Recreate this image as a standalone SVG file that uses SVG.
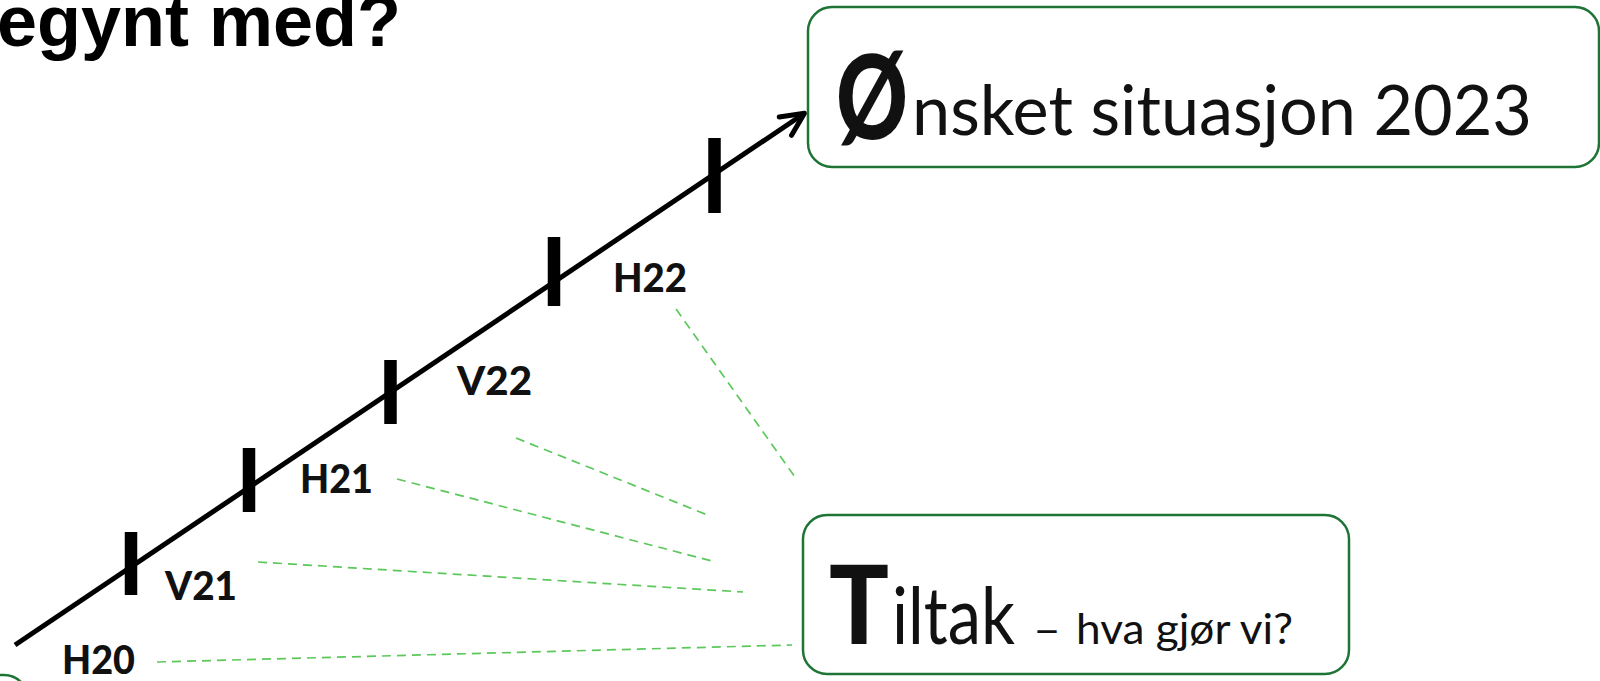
<svg xmlns="http://www.w3.org/2000/svg" width="1600" height="681" viewBox="0 0 1600 681">
<defs>
<style>
.box{fill:#ffffff;stroke:#1e7435;stroke-width:2.5}
.main{stroke:#000;stroke-width:5;fill:none;stroke-linecap:butt}
.tick{stroke:#000;stroke-width:12.5;fill:none}
.dash{stroke:#5cc85c;stroke-width:1.7;stroke-dasharray:9 6;fill:none}
.lbl{font-family:Lato,"Open Sans",sans-serif;font-weight:900;font-size:40px;fill:#111}
.cal{font-family:Lato,"Open Sans",sans-serif;fill:#111}
.title{font-family:"Liberation Sans",Arial,sans-serif;font-weight:bold;font-size:72px;fill:#000}
</style>
<marker id="arr" viewBox="0 0 32 32" refX="24" refY="16" markerWidth="32" markerHeight="32" markerUnits="userSpaceOnUse" orient="auto">
<path d="M4,5 L27,16 L4,27" fill="none" stroke="#000" stroke-width="5" stroke-linecap="round" stroke-linejoin="round"/>
</marker>
</defs>
<rect width="1600" height="681" fill="#ffffff"/>
<text class="title" x="401" y="46" text-anchor="end">egynt med?</text>
<g id="connectors">
<line class="main" x1="15" y1="645" x2="802" y2="115" marker-end="url(#arr)"/>
<line class="tick" x1="131" y1="532" x2="131" y2="595"/>
<line class="tick" x1="249" y1="448" x2="249" y2="512"/>
<line class="tick" x1="390.5" y1="360" x2="390.5" y2="424"/>
<line class="tick" x1="554" y1="237" x2="554" y2="306"/>
<line class="tick" x1="714.5" y1="138" x2="714.5" y2="213"/>
<line class="dash" x1="157" y1="662" x2="792" y2="645"/>
<line class="dash" x1="258" y1="562" x2="743" y2="592"/>
<line class="dash" x1="397" y1="479" x2="712" y2="561"/>
<line class="dash" x1="516" y1="438" x2="710" y2="516"/>
<line class="dash" x1="676" y1="309" x2="795" y2="477"/>
</g>
<g id="labels">
<text class="lbl" x="62" y="674" textLength="73" lengthAdjust="spacingAndGlyphs">H20</text>
<text class="lbl" x="165" y="600" textLength="72" lengthAdjust="spacingAndGlyphs">V21</text>
<text class="lbl" x="300" y="493" textLength="73" lengthAdjust="spacingAndGlyphs">H21</text>
<text class="lbl" x="457" y="395" textLength="75" lengthAdjust="spacingAndGlyphs">V22</text>
<text class="lbl" x="613" y="292" textLength="74" lengthAdjust="spacingAndGlyphs">H22</text>
</g>
<g id="onsket">
<rect class="box" x="808" y="7" width="791" height="160" rx="24"/>
<text class="cal" x="836" y="139" font-size="116" font-weight="900" textLength="72" lengthAdjust="spacingAndGlyphs">Ø</text>
<text class="cal" x="912" y="135" font-size="69" textLength="620" lengthAdjust="spacingAndGlyphs">nsket situasjon 2023</text>
</g>
<g id="tiltak">
<rect class="box" x="803" y="515" width="546" height="159" rx="24"/>
<text class="cal" x="829" y="644" font-size="108" font-weight="900" textLength="60" lengthAdjust="spacingAndGlyphs">T</text>
<text class="cal" x="892" y="644" font-size="80" textLength="123" lengthAdjust="spacingAndGlyphs">iltak</text>
<text class="cal" x="1033" y="644" font-size="43" textLength="28" lengthAdjust="spacingAndGlyphs">–</text>
<text class="cal" x="1076" y="644" font-size="43" textLength="217" lengthAdjust="spacingAndGlyphs">hva gjør vi?</text>
</g>
<g id="corner">
<rect class="box" x="-150" y="675" width="178" height="100" rx="24"/>
</g>
</svg>
